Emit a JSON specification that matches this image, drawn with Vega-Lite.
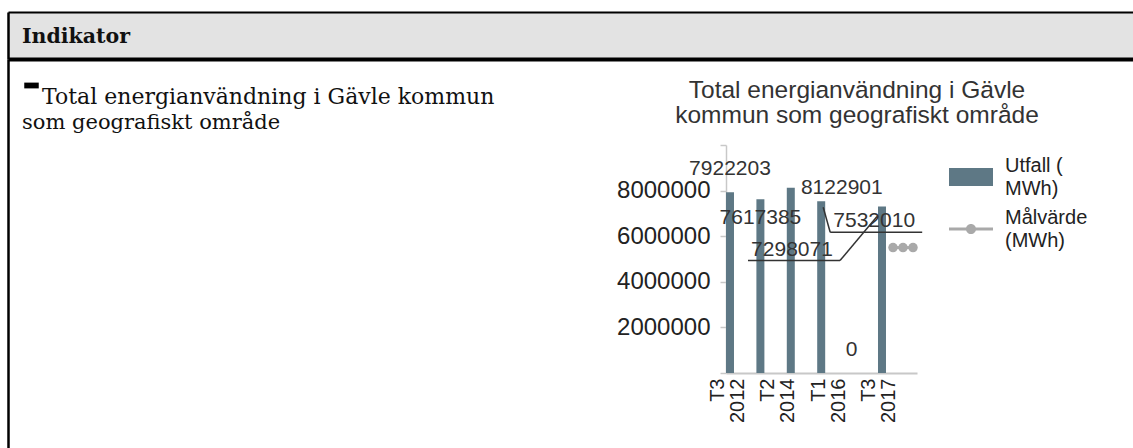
{
  "$schema": "https://vega.github.io/schema/vega-lite/v6.json",
  "background": "white",
  "padding": {"left": 8, "top": 12, "right": 0, "bottom": 0},
  "spacing": 0,
  "resolve": {"scale": {"color": "independent"}, "legend": {"color": "independent"}},
  "config": {
    "view": {"stroke": null},
    "font": "Liberation Sans",
    "axis": {"labelFont": "Liberation Sans", "grid": false}
  },
  "datasets": {
    "utfall": [
      {"year": "2012", "value": 7922203, "serie": "Utfall (MWh)"},
      {"year": "2013", "value": 7617385, "serie": "Utfall (MWh)"},
      {"year": "2014", "value": 8122901, "serie": "Utfall (MWh)"},
      {"year": "2015", "value": 7532010, "serie": "Utfall (MWh)"},
      {"year": "2016", "value": 0, "serie": "Utfall (MWh)"},
      {"year": "2017", "value": 7298071, "serie": "Utfall (MWh)"}
    ],
    "malvarde": [
      {"ar": "2018", "value": 5500000, "serie": "Målvärde (MWh)"},
      {"ar": "2019", "value": 5500000, "serie": "Målvärde (MWh)"},
      {"ar": "2020", "value": 5500000, "serie": "Målvärde (MWh)"}
    ],
    "etiketter": [
      {"etikett": "T3 2012"},
      {"etikett": "T2 2014"},
      {"etikett": "T1 2016"},
      {"etikett": "T3 2017"}
    ],
    "indikator": [
      {"rad": 1, "text": "Total energianvändning i Gävle kommun"},
      {"rad": 2, "text": "som geografiskt område"}
    ]
  },
  "vconcat": [
    {
      "width": 1125,
      "height": 47,
      "view": {"fill": "#e3e3e3", "stroke": null},
      "data": {"values": [{"rubrik": "Indikator"}]},
      "layer": [
        {
          "mark": {"type": "text", "font": "DejaVu Serif", "fontWeight": "bold", "fontSize": 20.5, "align": "left", "baseline": "middle", "dx": 14, "dy": 1, "color": "#111"},
          "encoding": {
            "text": {"field": "rubrik"},
            "x": {"datum": 0, "type": "quantitative", "scale": {"domain": [0, 1], "nice": false}, "axis": {"orient": "top", "domainColor": "#000", "domainWidth": 2, "ticks": false, "labels": false, "title": null, "minExtent": 0, "maxExtent": 0}},
            "y": {"datum": 0.5, "type": "quantitative", "scale": {"domain": [0, 1], "nice": false}, "axis": {"domainColor": "#000", "domainWidth": 2.5, "ticks": false, "labels": false, "title": null, "minExtent": 0, "maxExtent": 0}}
          }
        },
        {
          "mark": {"type": "text", "opacity": 0, "align": "left", "baseline": "middle"},
          "encoding": {
            "text": {"field": "rubrik"},
            "x": {"datum": 0, "type": "quantitative", "axis": {"orient": "bottom", "domainColor": "#000", "domainWidth": 4, "ticks": false, "labels": false, "title": null, "minExtent": 0, "maxExtent": 0}},
            "y": {"datum": 0.5, "type": "quantitative"}
          }
        }
      ],
      "resolve": {"axis": {"x": "independent"}}
    },
    {
      "resolve": {"scale": {"color": "independent"}, "legend": {"color": "independent"}},
      "hconcat": [
        {
          "width": 608,
          "height": 389,
          "data": {"name": "indikator"},
          "encoding": {
            "x": {"datum": 0, "type": "quantitative", "scale": {"domain": [0, 1], "nice": false}, "axis": null},
            "y": {"datum": 1, "type": "quantitative", "scale": {"domain": [0, 1], "nice": false}, "axis": {"domainColor": "#000", "domainWidth": 2.5, "ticks": false, "labels": false, "title": null, "minExtent": 0, "maxExtent": 0}}
          },
          "layer": [
            {
              "transform": [{"filter": "datum.rad == 1"}],
              "mark": {"type": "point", "shape": "M-1,-0.4H1V0.4H-1Z", "size": 210, "filled": true, "color": "#000", "opacity": 1, "strokeWidth": 0, "xOffset": 23.5, "yOffset": 26.5}
            },
            {
              "transform": [{"filter": "datum.rad == 1"}],
              "mark": {"type": "text", "font": "DejaVu Serif", "fontSize": 22, "align": "left", "baseline": "top", "dx": 34, "dy": 28, "color": "#111"},
              "encoding": {"text": {"field": "text"}}
            },
            {
              "transform": [{"filter": "datum.rad == 2"}],
              "mark": {"type": "text", "font": "DejaVu Serif", "fontSize": 21, "align": "left", "baseline": "top", "dx": 14, "dy": 53, "color": "#111"},
              "encoding": {"text": {"field": "text"}}
            }
          ]
        },
        {
          "resolve": {"scale": {"color": "independent"}, "legend": {"color": "independent"}},
          "vconcat": [
            {
              "width": 1,
              "height": 18,
              "data": {"values": [{"t": ""}]},
              "mark": {"type": "text", "opacity": 0},
              "encoding": {"text": {"field": "t"}}
            },
            {
              "width": 191,
              "height": 228,
              "title": {"text": ["Total energianvändning i Gävle", "kommun som geografiskt område"], "frame": "bounds", "fontSize": 24.5, "font": "Liberation Sans", "fontWeight": "normal", "color": "#333", "lineHeight": 25, "offset": 16, "anchor": "middle"},
              "layer": [
                {
                  "data": {"name": "utfall"},
                  "encoding": {
                    "x": {"field": "year", "type": "nominal", "sort": null, "scale": {"type": "band", "paddingInner": 0.737, "paddingOuter": 0.51, "align": 0}, "axis": null},
                    "y": {"field": "value", "type": "quantitative", "scale": {"domain": [0, 10000000], "nice": false},
                      "axis": {"values": [0, 2000000, 4000000, 6000000, 8000000, 10000000], "format": "d", "labelExpr": "datum.value == 0 || datum.value == 10000000 ? '' : datum.label", "domainColor": "#c8c8c8", "domainWidth": 1.5, "tickColor": "#c8c8c8", "tickSize": 6, "tickWidth": 1.5, "labelFontSize": 24, "labelColor": "#222", "labelPadding": 10, "title": null, "minExtent": 110, "maxExtent": 110}}
                  },
                  "layer": [
                    {
                      "mark": {"type": "bar"},
                      "encoding": {
                        "color": {"field": "serie", "type": "nominal",
                          "scale": {"domain": ["Utfall (MWh)", "Målvärde (MWh)"], "range": ["#5e7885", "#a9a9a9"]},
                          "legend": {"title": null, "orient": "right", "offset": 22, "padding": 10, "symbolSize": 1936, "symbolStrokeWidth": 0, "labelFontSize": 20, "labelFont": "Liberation Sans", "labelColor": "#222", "labelOffset": 12, "rowPadding": 8, "labelLimit": 200,
                            "labelExpr": "datum.value == 'Utfall (MWh)' ? ['Utfall (', 'MWh)'] : ['Målvärde', '(MWh)']",
                            "encode": {
                              "symbols": {"update": {"shape": {"signal": "datum.value == 'Utfall (MWh)' ? 'M-1,-0.41H1V0.41H-1Z' : 'M-1,-0.07H1V0.07H-1Z M-0.23,0A0.23,0.23,0,1,1,0.23,0A0.23,0.23,0,1,1,-0.23,0Z'"}}},
                              "labels": {"update": {"lineHeight": {"value": 23}, "dy": {"value": -11.5}}}
                            }}
                        }
                      }
                    },
                    {
                      "transform": [{"filter": "datum.year == '2012' || datum.year == '2016'"}],
                      "mark": {"type": "text", "fontSize": 21, "color": "#333", "baseline": "middle", "dy": -23},
                      "encoding": {"text": {"field": "value", "type": "quantitative", "format": "d"}}
                    },
                    {
                      "transform": [{"filter": "datum.year == '2013'"}],
                      "mark": {"type": "text", "fontSize": 21, "color": "#333", "baseline": "middle", "dy": 19},
                      "encoding": {"text": {"field": "value", "type": "quantitative", "format": "d"}}
                    },
                    {
                      "transform": [{"filter": "datum.year == '2014'"}],
                      "mark": {"type": "text", "fontSize": 21, "color": "#333", "baseline": "middle", "dx": 51, "dy": 0},
                      "encoding": {"text": {"field": "value", "type": "quantitative", "format": "d"}}
                    },
                    {
                      "transform": [{"filter": "datum.year == '2015'"}],
                      "mark": {"type": "text", "fontSize": 21, "color": "#333", "baseline": "middle", "dx": 53, "dy": 20},
                      "encoding": {"text": {"field": "value", "type": "quantitative", "format": "d"}}
                    },
                    {
                      "transform": [{"filter": "datum.year == '2017'"}],
                      "mark": {"type": "text", "fontSize": 21, "color": "#333", "baseline": "middle", "dx": -90, "dy": 43},
                      "encoding": {"text": {"field": "value", "type": "quantitative", "format": "d"}}
                    },
                    {
                      "transform": [{"filter": "datum.year == '2015'"}],
                      "mark": {"type": "rule", "color": "#333", "strokeWidth": 1.5, "xOffset": 2, "yOffset": 6, "x2Offset": 9, "y2Offset": 31},
                      "encoding": {"x": {"field": "year", "type": "nominal", "bandPosition": 0.5}, "x2": {"field": "year", "bandPosition": 0.5}, "y2": {"field": "value"}}
                    },
                    {
                      "transform": [{"filter": "datum.year == '2015'"}],
                      "mark": {"type": "rule", "color": "#333", "strokeWidth": 1.5, "xOffset": 9, "yOffset": 31, "x2Offset": 101, "y2Offset": 31},
                      "encoding": {"x": {"field": "year", "type": "nominal", "bandPosition": 0.5}, "x2": {"field": "year", "bandPosition": 0.5}, "y2": {"field": "value"}}
                    },
                    {
                      "transform": [{"filter": "datum.year == '2017'"}],
                      "mark": {"type": "rule", "color": "#333", "strokeWidth": 1.5, "xOffset": -5, "yOffset": 10, "x2Offset": -42, "y2Offset": 54},
                      "encoding": {"x": {"field": "year", "type": "nominal", "bandPosition": 0.5}, "x2": {"field": "year", "bandPosition": 0.5}, "y2": {"field": "value"}}
                    },
                    {
                      "transform": [{"filter": "datum.year == '2017'"}],
                      "mark": {"type": "rule", "color": "#333", "strokeWidth": 1.5, "xOffset": -42, "yOffset": 54, "x2Offset": -134, "y2Offset": 54},
                      "encoding": {"x": {"field": "year", "type": "nominal", "bandPosition": 0.5}, "x2": {"field": "year", "bandPosition": 0.5}, "y2": {"field": "value"}}
                    }
                  ]
                },
                {
                  "data": {"name": "malvarde"},
                  "encoding": {
                    "x": {"field": "ar", "type": "nominal", "sort": null, "scale": {"type": "point", "padding": 0, "range": [167, 187]}, "axis": null},
                    "y": {"field": "value", "type": "quantitative"},
                    "color": {"value": "#a9a9a9"}
                  },
                  "layer": [
                    {"mark": {"type": "line", "strokeWidth": 3}},
                    {"mark": {"type": "point", "filled": true, "size": 90, "opacity": 1}}
                  ]
                },
                {
                  "data": {"name": "etiketter"},
                  "mark": {"type": "point", "opacity": 0},
                  "encoding": {
                    "x": {"field": "etikett", "type": "nominal", "sort": null, "scale": {"type": "point", "padding": 0.3986, "align": 0.037},
                      "axis": {"labelAngle": 270, "labelExpr": "split(datum.label, ' ')", "labelFontSize": 20, "labelLineHeight": 20, "labelOffset": -10, "labelColor": "#222", "domainColor": "#c8c8c8", "domainWidth": 2, "ticks": false, "labelPadding": 5, "title": null, "minExtent": 58, "maxExtent": 58}}
                  }
                }
              ],
              "resolve": {"scale": {"x": "independent"}}
            }
          ],
          "spacing": 0
        }
      ],
      "spacing": 0
    }
  ]
}
